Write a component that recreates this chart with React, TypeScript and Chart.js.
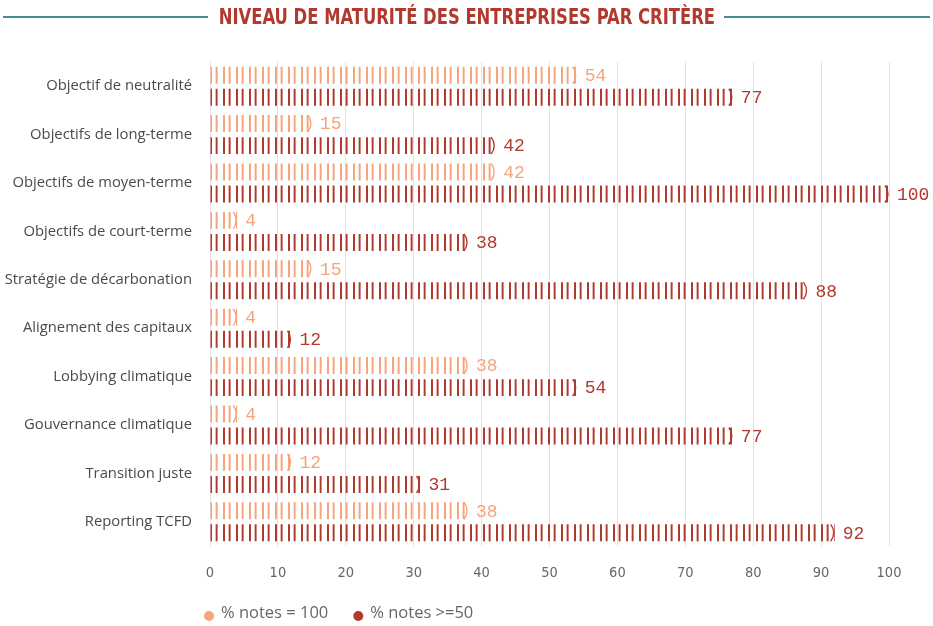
import React, { useEffect, useRef } from "react";
import { Chart, registerables } from "chart.js";

Chart.register(...registerables);

const TITLE = "NIVEAU DE MATURITÉ DES ENTREPRISES PAR CRITÈRE";

const categories = [
  "Objectif de neutralité",
  "Objectifs de long-terme",
  "Objectifs de moyen-terme",
  "Objectifs de court-terme",
  "Stratégie de décarbonation",
  "Alignement des capitaux",
  "Lobbying climatique",
  "Gouvernance climatique",
  "Transition juste",
  "Reporting TCFD",
];

const seriesNames = ["% notes = 100", "% notes >=50"];
const notes100 = [54, 15, 42, 4, 15, 4, 38, 4, 12, 38];
const notes50 = [77, 42, 100, 38, 88, 12, 54, 77, 31, 92];

const xMin = 0;
const xMax = 100;
const xStep = 10;

const ORANGE = "#f5a47c";
const RED = "#b2392e";
const TEAL = "#4a8b9b";

function makeStripePattern(color: string, offsetX: number): CanvasPattern | string {
  const c = document.createElement("canvas");
  c.width = 13;
  c.height = 4;
  const g = c.getContext("2d");
  if (!g) return color;
  g.fillStyle = color;
  g.fillRect(0, 0, 2, 4);
  g.fillRect(6, 0, 1, 4);
  g.globalAlpha = 0.6;
  g.fillRect(7, 0, 1, 4);
  g.globalAlpha = 0.35;
  g.fillRect(5, 0, 1, 4);
  const p = g.createPattern(c, "repeat");
  if (!p) return color;
  try {
    p.setTransform(new DOMMatrix().translate(offsetX, 0));
  } catch (e) {}
  return p;
}

const valueLabels = {
  id: "valueLabels",
  afterDatasetsDraw(chart: any) {
    const { ctx } = chart;
    chart.data.datasets.forEach((ds: any, i: number) => {
      const meta = chart.getDatasetMeta(i);
      meta.data.forEach((bar: any, j: number) => {
        const h = bar.height;
        const half = h / 2;
        const sag = 3;
        const r = (half * half + sag * sag) / (2 * sag);
        const a = Math.asin(half / r);
        ctx.save();
        ctx.strokeStyle = ds.solidColor;
        ctx.lineWidth = 1.4;
        ctx.beginPath();
        ctx.arc(bar.x - 1 - r, bar.y, r, -a, a);
        ctx.stroke();
        ctx.fillStyle = ds.solidColor;
        ctx.font = "18px 'Liberation Mono', 'DejaVu Sans Mono', monospace";
        ctx.textAlign = "left";
        ctx.textBaseline = "middle";
        ctx.fillText(String(ds.data[j]), bar.x + 8, bar.y + 1);
        ctx.restore();
      });
    });
  },
};

const customLegend = {
  id: "customLegend",
  afterDraw(chart: any) {
    const { ctx } = chart;
    let x = chart.chartArea.left - 1;
    const y = 613;
    ctx.save();
    ctx.font = "16.5px 'Open Sans', sans-serif";
    ctx.textBaseline = "middle";
    ctx.textAlign = "left";
    chart.data.datasets.forEach((ds: any) => {
      ctx.fillStyle = ds.solidColor;
      ctx.beginPath();
      ctx.arc(x, y + 3, 5, 0, Math.PI * 2);
      ctx.fill();
      ctx.fillStyle = "#666";
      ctx.fillText(ds.label, x + 12, y);
      x += 12 + ctx.measureText(ds.label).width + 30;
    });
    ctx.restore();
  },
};

export default function App() {
  const ref = useRef<HTMLCanvasElement>(null);

  useEffect(() => {
    if (!ref.current) return;
    const left = 210;
    const chart = new Chart(ref.current, {
      type: "bar",
      data: {
        labels: categories,
        datasets: [
          {
            label: seriesNames[0],
            data: notes100,
            backgroundColor: makeStripePattern(ORANGE, left) as any,
            solidColor: ORANGE,
            borderWidth: 0,
            categoryPercentage: 0.91,
            barPercentage: 0.77,
          } as any,
          {
            label: seriesNames[1],
            data: notes50,
            backgroundColor: makeStripePattern(RED, left) as any,
            solidColor: RED,
            borderWidth: 0,
            categoryPercentage: 0.91,
            barPercentage: 0.77,
          } as any,
        ],
      },
      options: {
        indexAxis: "y",
        animation: false,
        responsive: false,
        maintainAspectRatio: false,
        layout: { padding: { top: 62, right: 44, left: 0, bottom: 40 } },
        plugins: {
          legend: { display: false },
          tooltip: { enabled: false },
          title: { display: false },
        },
        scales: {
          x: {
            min: xMin,
            max: xMax,
            ticks: {
              stepSize: xStep,
              color: "#666",
              padding: 19,
              font: { family: "'Liberation Sans Narrow', 'DejaVu Sans Condensed', sans-serif", size: 14.5 },
            },
            grid: { color: "#e2e2e2", drawTicks: false, lineWidth: 1 },
            border: { display: false },
            afterFit: (s: any) => {
              s.height = 40;
            },
          },
          y: {
            ticks: {
              color: "#4a4a4a",
              padding: 18,
              font: { family: "'Open Sans', sans-serif", size: 14.8 },
            },
            grid: { display: false, drawTicks: false },
            border: { display: false },
            afterFit: (s: any) => {
              s.width = left;
            },
          },
        },
      } as any,
      plugins: [valueLabels, customLegend],
    });
    return () => chart.destroy();
  }, []);

  return (
    <div style={{ position: "absolute", left: 0, top: 0, width: 933, height: 626, background: "#fff" }}>
      <div style={{ position: "absolute", left: 3, width: 205, top: 16, height: 2, background: TEAL }} />
      <div style={{ position: "absolute", left: 724, width: 206, top: 16, height: 2, background: TEAL }} />
      <div
        style={{
          position: "absolute",
          left: 0,
          width: 933,
          top: 0,
          height: 34,
          display: "flex",
          justifyContent: "center",
          alignItems: "center",
        }}
      >
        <div
          style={{
            color: "#b3392e",
            fontFamily: "'Liberation Sans Narrow', 'DejaVu Sans Condensed', sans-serif",
            fontWeight: 700,
            fontSize: 21,
            whiteSpace: "nowrap",
            lineHeight: "34px",
            transform: "scaleX(0.868)",
            transformOrigin: "center",
          }}
        >
          {TITLE}
        </div>
      </div>
      <canvas ref={ref} width={933} height={626} style={{ display: "block" }} />
    </div>
  );
}
